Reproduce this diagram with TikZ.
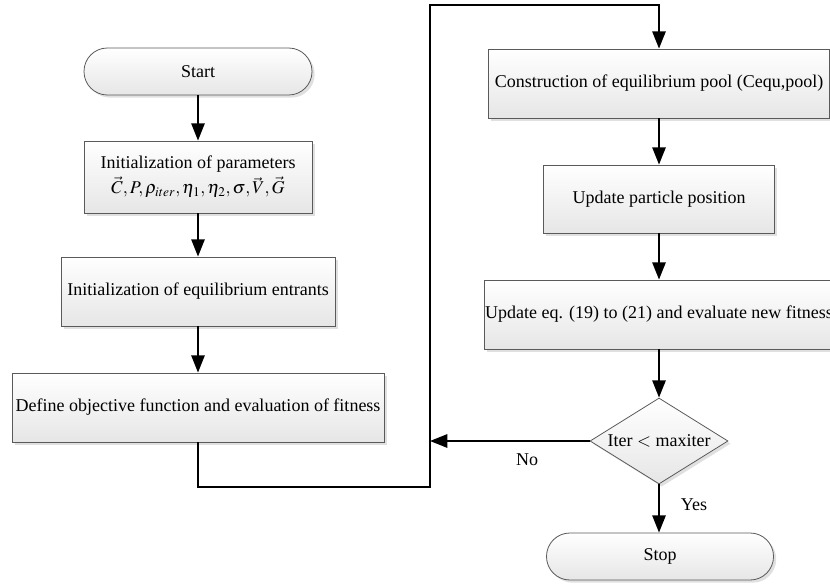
\documentclass[tikz,border=0pt]{standalone}
\usepackage{mathptmx}
\usepackage{fontspec}
\setmainfont{Liberation Serif}
\usetikzlibrary{arrows.meta,shapes.geometric,shadows}
\definecolor{edge}{HTML}{5A5A5A}
\definecolor{shade}{HTML}{E6E6E6}
\tikzset{
  procbox/.style={rectangle,draw=edge,line width=0.6pt,top color=white,bottom color=shade,
    drop shadow={shadow xshift=2pt,shadow yshift=-2pt,fill=black!20,opacity=0.6},
    inner sep=0pt,align=center,font=\fontsize{13.5}{17}\selectfont},
  termbox/.style={procbox,rounded corners=17.5pt},
  decbox/.style={procbox,diamond,aspect=1.6},
  lbl/.style={font=\fontsize{13.5}{16}\selectfont},
  flow/.style={black,line width=1.5pt,-{Triangle[length=13pt,width=10pt]}},
}

\begin{document}
\begin{tikzpicture}[x=0.75pt,y=-0.75pt]
  \useasboundingbox (0,0) rectangle (830,584);

  % Left column
  \node[termbox,minimum width=171pt,minimum height=35.25pt] (start) at (198,71.5) {Start};
  \node[procbox,minimum width=171pt,minimum height=54pt] (par) at (198,177)
    {Initialization of parameters\\[2pt] $\vec{C},P,\rho_{iter},\eta_1,\eta_2,\sigma,\vec{V},\vec{G}$};
  \node[procbox,minimum width=205.5pt,minimum height=51.75pt] (ent) at (198,291.5)
    {Initialization of equilibrium entrants};
  \node[procbox,minimum width=279pt,minimum height=51.75pt] (obj) at (198,407.5)
    {Define objective function and evaluation of fitness};

  % Right column
  \node[procbox,minimum width=255.75pt,minimum height=51.75pt] (pool) at (659,83.5)
    {Construction of equilibrium pool (Cequ,pool)};
  \node[procbox,minimum width=173.25pt,minimum height=51pt] (pos) at (659,199)
    {Update particle position};
  \node[procbox,minimum width=262.5pt,minimum height=51.75pt] (upd) at (659,314.5)
    {Update eq. (19) to (21) and evaluate new fitness};
  \node[decbox,minimum width=103.5pt,minimum height=64.5pt] (dec) at (659,441)
    {Iter $<$ maxiter};
  \node[termbox,minimum width=170.25pt,minimum height=35.25pt] (stop) at (660,556.5) {Stop};

  % Flow
  \draw[flow] (start) -- (par);
  \draw[flow] (par) -- (ent);
  \draw[flow] (ent) -- (obj);

  \coordinate (lb) at (430,487);
  \coordinate (lt) at (430,5);
  \draw[flow] (obj.south) |- (lb) -- (lt) -| (pool.north);

  \draw[flow] (pool) -- (pos);
  \draw[flow] (pos) -- (upd);
  \draw[flow] (upd) -- (dec);
  \draw[flow] (dec.south) -- (dec.south |- stop.north);

  % Loop back
  \coordinate (ret) at (430,441);
  \draw[flow] (dec.west) -- (ret);
  \node[lbl] (no) at (527,460) {No};
  \node[lbl] (yes) at (694,505) {Yes};
\end{tikzpicture}
\end{document}
